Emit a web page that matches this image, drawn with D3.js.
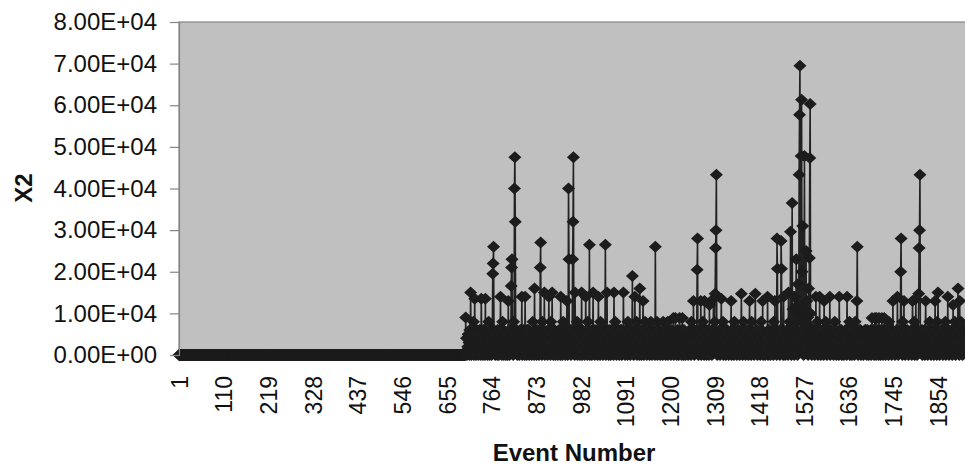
<!DOCTYPE html>
<html>
<head>
<meta charset="utf-8">
<script src="https://cdn.jsdelivr.net/npm/d3@7"></script>
<style>
body { margin: 0; background: #fff; }
svg { display: block; font-family: "Liberation Sans", Arial, sans-serif; }
</style>
</head>
<body>
<svg width="965" height="466"></svg>
<script>
// X2 for each event, in thousands (events 1-700 are all zero)
var x2Lead = [
0,0,0,0,0,0,0,0,0,0,0,0,0,0,0,0,0,0,0,0,0,0,0,0,0,0,0,0,0,0,0,0,0,0,0,0,0,0,0,0,0,0,0,0,0,0,0,0,0,0,
0,0,0,0,0,0,0,0,0,0,0,0,0,0,0,0,0,0,0,0,0,0,0,0,0,0,0,0,0,0,0,0,0,0,0,0,0,0,0,0,0,0,0,0,0,0,0,0,0,0,
0,0,0,0,0,0,0,0,0,0,0,0,0,0,0,0,0,0,0,0,0,0,0,0,0,0,0,0,0,0,0,0,0,0,0,0,0,0,0,0,0,0,0,0,0,0,0,0,0,0,
0,0,0,0,0,0,0,0,0,0,0,0,0,0,0,0,0,0,0,0,0,0,0,0,0,0,0,0,0,0,0,0,0,0,0,0,0,0,0,0,0,0,0,0,0,0,0,0,0,0,
0,0,0,0,0,0,0,0,0,0,0,0,0,0,0,0,0,0,0,0,0,0,0,0,0,0,0,0,0,0,0,0,0,0,0,0,0,0,0,0,0,0,0,0,0,0,0,0,0,0,
0,0,0,0,0,0,0,0,0,0,0,0,0,0,0,0,0,0,0,0,0,0,0,0,0,0,0,0,0,0,0,0,0,0,0,0,0,0,0,0,0,0,0,0,0,0,0,0,0,0,
0,0,0,0,0,0,0,0,0,0,0,0,0,0,0,0,0,0,0,0,0,0,0,0,0,0,0,0,0,0,0,0,0,0,0,0,0,0,0,0,0,0,0,0,0,0,0,0,0,0,
0,0,0,0,0,0,0,0,0,0,0,0,0,0,0,0,0,0,0,0,0,0,0,0,0,0,0,0,0,0,0,0,0,0,0,0,0,0,0,0,0,0,0,0,0,0,0,0,0,0,
0,0,0,0,0,0,0,0,0,0,0,0,0,0,0,0,0,0,0,0,0,0,0,0,0,0,0,0,0,0,0,0,0,0,0,0,0,0,0,0,0,0,0,0,0,0,0,0,0,0,
0,0,0,0,0,0,0,0,0,0,0,0,0,0,0,0,0,0,0,0,0,0,0,0,0,0,0,0,0,0,0,0,0,0,0,0,0,0,0,0,0,0,0,0,0,0,0,0,0,0,
0,0,0,0,0,0,0,0,0,0,0,0,0,0,0,0,0,0,0,0,0,0,0,0,0,0,0,0,0,0,0,0,0,0,0,0,0,0,0,0,0,0,0,0,0,0,0,0,0,0,
0,0,0,0,0,0,0,0,0,0,0,0,0,0,0,0,0,0,0,0,0,0,0,0,0,0,0,0,0,0,0,0,0,0,0,0,0,0,0,0,0,0,0,0,0,0,0,0,0,0,
0,0,0,0,0,0,0,0,0,0,0,0,0,0,0,0,0,0,0,0,0,0,0,0,0,0,0,0,0,0,0,0,0,0,0,0,0,0,0,0,0,0,0,0,0,0,0,0,0,0,
0,0,0,0,0,0,0,0,0,0,0,0,0,0,0,0,0,0,0,0,0,0,0,0,0,0,0,0,0,0,0,0,0,0,0,0,0,0,0,0,0,0,0,0,0,0,0,0,0,0
];
var x2_701 = [
9,1,4,0,4,2,5,5,3,0,6,1,15,4,0,5,2,5,1,8,
0,4,13.5,2,6,0,3,6,1,5,2,0,4,3,6,1,4,0,13.5,6,
2,5,0,6,3,1,6,0,13.5,2,4,5,1,0,5,3,8,2,0,4,
1,4,6,0,3,6,19.5,22,26,6,2,5,0,5,1,3,4,0,6,2,
4,0,6,1,5,14,2,4,0,3,8,1,6,0,4,2,4,3,0,5
];
var x2_801 = [
1,5,0,3,13,2,6,0,6,4,1,16.6,21,23,2,5,0,8,3,40,
47.5,32,6,1,6,3,0,5,2,5,4,0,4,6,1,6,2,14,0,4,
3,6,1,5,0,14,2,5,4,0,6,6,1,3,6,0,5,2,4,1,
4,0,4,3,8,1,5,0,16,2,6,3,6,0,4,1,6,2,5,0,
5,3,21,27,2,6,0,8,4,1,6,3,15,0,5,2,4,1,5,4
];
var x2_901 = [
0,6,3,14,1,5,2,0,8,5,3,15,1,4,0,6,2,6,4,0,
4,1,4,3,5,0,5,2,6,1,6,0,14,3,2,5,0,4,8,1,
5,2,6,0,3,4,1,13,4,0,6,40,23,2,5,1,6,0,4,3,
6,23,32,47.5,2,5,0,15,4,1,4,3,8,0,5,2,5,1,6,0,
4,6,2,15,0,6,1,4,3,5,0,5,2,14,4,1,4,0,8,3
];
var x2_1001 = [
5,1,26.5,0,5,3,4,2,0,6,4,15,1,6,3,0,4,2,6,5,
1,5,0,4,14,2,6,3,0,8,1,5,4,2,4,0,4,6,1,3,
6,26.5,0,5,2,15,1,5,3,0,6,4,2,4,0,6,3,6,1,6,
2,0,15,4,1,8,3,6,0,4,5,2,5,1,6,0,4,3,6,2,
6,0,4,3,1,15,5,2,5,0,4,6,1,4,3,0,8,2,6,1
];
var x2_1101 = [
5,6,0,3,4,2,6,19,1,4,0,5,3,14,1,5,2,8,0,6,
3,4,1,4,0,16,2,4,3,0,6,1,5,13,2,0,6,4,8,1,
3,5,0,5,4,2,1,6,4,0,4,3,8,1,6,0,6,2,4,5,
1,5,0,26,3,4,2,8,0,4,6,1,6,3,4,0,5,2,5,1,
4,0,8,3,6,1,6,2,0,5,5,3,1,8,0,6,2,4,4,1
];
var x2_1201 = [
3,0,5,6,1,4,2,8.9,0,5,3,1,8.9,2,5,0,4,6,1,3,
0,5,8.9,2,4,1,6,0,3,8.9,2,5,0,6,1,4,3,0,5,2,
5,1,5,0,4,4,2,6,1,3,0,8,5,2,5,1,13,3,0,6,
4,2,4,1,4,20.5,28,3,0,5,6,2,6,1,13,0,4,5,2,8,
1,5,0,13,3,4,2,6,0,4,4,1,6,3,0,12,2,5,5,1
];
var x2_1301 = [
4,0,6,2,6,13.5,1,3,8,14.7,25.7,30,43.3,5,0,5,2,4,1,4,
6,0,6,3,13.5,1,5,2,8,0,4,4,1,5,3,0,6,2,6,1,
5,3,0,4,2,4,1,4,13,0,6,2,6,1,3,0,8,5,2,5,
1,4,0,5,3,6,2,6,1,0,5,4,3,14.7,2,4,0,4,8,1,
6,2,5,0,3,4,1,5,6,2,0,4,4,13,1,3,6,0,8,2
];
var x2_1401 = [
5,1,5,3,0,4,2,14.7,4,6,1,6,0,3,5,2,5,1,4,0,
4,8,2,6,1,13,0,3,5,2,5,0,4,1,4,4,2,14,0,6,
3,6,1,5,0,5,2,5,4,1,6,0,8,3,2,13,1,5,6,0,
28,20.7,4,1,5,3,4,0,6,2,27.4,20.7,1,5,6,0,14,3,2,4,
0,5,4,1,6,3,6,0,15,2,5,8,1,29.6,4,0,5,36.5,3,11
];
var x2_1501 = [
2,6,0,14,5,1,10,23,3,8,0,17,12,4,43.3,57.7,69.5,9,2,47.8,
61.3,20,6,31,3,0,11,47.8,2,8,5,25,1,13,4,9,0,16,7,23.3,
47.3,60.3,10,3,6,0,6,2,5,1,4,5,0,6,3,14,1,6,2,8,
0,4,5,1,14,3,6,0,4,2,5,6,1,4,0,13,2,4,3,8,
1,5,0,5,3,5,2,6,1,14,0,4,6,2,5,1,4,3,0,4
];
var x2_1601 = [
2,8,4,1,6,0,5,3,5,2,5,0,14,1,4,6,2,6,0,4,
3,1,4,0,5,2,5,6,1,4,0,14,3,6,2,5,1,8,0,5,
2,6,4,0,6,1,4,3,4,0,4,8,2,5,1,13,26,3,0,5,
4,1,6,2,6,0,4,3,5,1,5,0,4,5,2,6,1,6,3,0,
5,6,2,4,0,4,1,5,3,6,0,4,8.9,2,5,1,6,0,3,8.9
];
var x2_1701 = [
1,5,0,8.9,2,4,1,6,0,8.9,3,1,5,0,6,2,8.9,1,4,0,
6,2,8.9,1,3,0,5,6,2,4,1,4,0,8,3,5,2,5,1,6,
0,6,3,13,2,5,1,5,0,4,4,2,6,1,14,3,0,6,2,5,
4,1,20,28,3,6,0,8,2,4,13,1,5,0,6,3,4,2,6,1,
4,0,5,3,5,1,5,2,6,0,6,13,1,4,2,8,0,4,3,13.5
];
var x2_1801 = [
2,5,0,6,3,4,14.7,25.7,30,43.3,4,1,5,2,6,0,5,3,5,1,
6,0,4,13,2,4,1,5,0,4,3,6,2,8,1,4,0,5,3,5,
1,5,6,0,4,2,13,1,6,3,0,8,2,15,5,1,5,0,4,4,
2,6,1,6,3,0,5,4,2,4,1,8,0,5,3,5,2,14,1,6,
0,4,4,2,4,1,5,6,0,3,12,2,6,1,8,4,0,5,2,5
];
var x2_1901 = [
3,6,16,1,6,0,13,4,2,8,5,1,5,0,4,3,6,2,6,4
];

var xTickEvents = [1,110,219,328,437,546,655,764,873,982,1091,1200,1309,1418,1527,1636,1745,1854];
var yTickValues = [0,10000,20000,30000,40000,50000,60000,70000,80000];

var series = [].concat(x2Lead, x2_701, x2_801, x2_901, x2_1001, x2_1101, x2_1201,
    x2_1301, x2_1401, x2_1501, x2_1601, x2_1701, x2_1801, x2_1901)
  .map(function(v, i) { return { event: i + 1, x2: v * 1000 }; });

var svg = d3.select("svg");
var plotLeft = 179, plotTop = 22, plotBottom = 355, plotRight = 965;

var x = d3.scaleLinear().domain([1, 1920]).range([plotLeft, plotRight]);
var y = d3.scaleLinear().domain([0, 80000]).range([plotBottom, plotTop]);

// grey plot area
svg.append("rect")
  .attr("x", plotLeft).attr("y", plotTop)
  .attr("width", 820).attr("height", plotBottom - plotTop)
  .attr("fill", "#c0c0c0")
  .style("stroke", "#858585")
  .style("stroke-width", 1.2);

var line = d3.line()
  .x(function(d) { return x(d.event); })
  .y(function(d) { return y(d.x2); });

svg.append("path")
  .datum(series)
  .attr("fill", "none")
  .attr("stroke", "#222")
  .attr("stroke-width", 1.6)
  .attr("d", line);

// diamond markers
svg.append("g").selectAll("path")
  .data(series)
  .enter().append("path")
  .attr("transform", function(d) { return "translate(" + x(d.event) + "," + y(d.x2) + ")"; })
  .attr("d", "M0,-6L6.5,0L0,6L-6.5,0Z")
  .attr("fill", "#1c1c1c");

function sci(d) {
  var p = d.toExponential(2).split("e");
  var e = parseInt(p[1], 10);
  return p[0] + "E" + (e < 0 ? "-" : "+") + (Math.abs(e) < 10 ? "0" : "") + Math.abs(e);
}

var yAxis = svg.append("g")
  .attr("transform", "translate(" + plotLeft + ",0)")
  .call(d3.axisLeft(y).tickValues(yTickValues).tickFormat(sci).tickSize(9).tickPadding(13));
yAxis.select(".domain").attr("stroke", "#858585").attr("stroke-width", 1.2);
yAxis.selectAll(".tick line").attr("stroke", "#858585").attr("stroke-width", 1.2);
yAxis.selectAll("text")
  .attr("fill", "#111")
  .style("font-size", "24px")
  .style("font-family", "'Liberation Sans', Arial, sans-serif");

var xAxis = svg.append("g")
  .attr("transform", "translate(0," + plotBottom + ")")
  .call(d3.axisBottom(x).tickValues(xTickEvents).tickFormat(d3.format("d")).tickSize(0));
xAxis.select(".domain").remove();
xAxis.selectAll("text")
  .attr("fill", "#111")
  .attr("y", 0)
  .attr("dy", "0.36em")
  .attr("transform", "translate(0,21) rotate(-90)")
  .style("text-anchor", "end")
  .style("font-size", "23px")
  .style("font-family", "'Liberation Sans', Arial, sans-serif");

svg.append("text")
  .attr("transform", "translate(32,188) rotate(-90)")
  .style("text-anchor", "middle")
  .style("font-weight", "bold")
  .style("font-size", "24px")
  .attr("fill", "#111")
  .text("X2");

svg.append("text")
  .attr("x", 574)
  .attr("y", 461)
  .style("text-anchor", "middle")
  .style("font-weight", "bold")
  .style("font-size", "24px")
  .attr("fill", "#111")
  .text("Event Number");
</script>
</body>
</html>
